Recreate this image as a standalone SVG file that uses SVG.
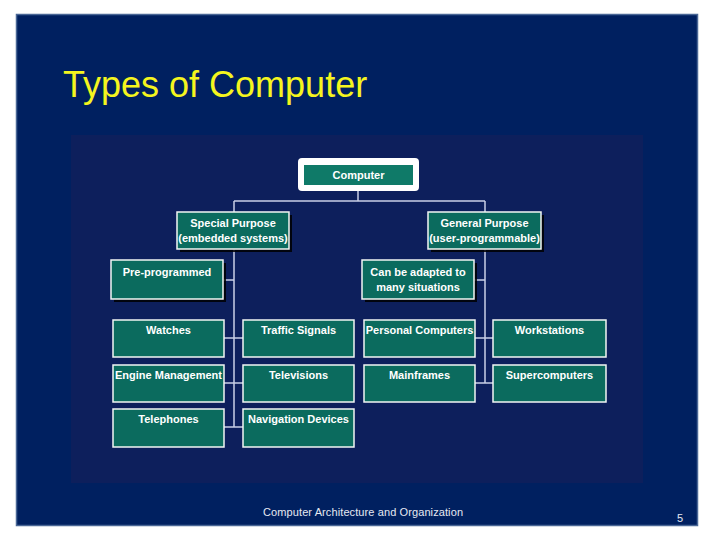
<svg xmlns="http://www.w3.org/2000/svg" width="728" height="546" viewBox="0 0 728 546">
<defs>
<style>
.box{fill:#0b6b5e;stroke:#f2f6f4;stroke-width:1.5}
.sh{fill:#000000;opacity:0.85}
.lbl{font-family:"Liberation Sans",Arial,sans-serif;font-weight:bold;font-size:11px;fill:#ffffff;text-anchor:middle}
.ln{stroke:#c9d0e6;stroke-width:1.5;fill:none}
</style>
</defs>
<rect x="0" y="0" width="728" height="546" fill="#ffffff"/>
<rect x="16.5" y="14.5" width="681" height="511" fill="#002060" stroke="#4a6796" stroke-width="1.5"/>
<text x="63" y="97" font-family="Liberation Sans, Arial, sans-serif" font-size="36" fill="#f5f51e">Types of Computer</text>
<rect x="71" y="135" width="572" height="348" fill="#0d1f5c"/>
<g id="connectors">
<path class="ln" d="M358 191 V201 M234 201 H485 M234 201 V212 M485 201 V212"/>
<path class="ln" d="M234 249 V427 M485 249 V383"/>
<path class="ln" d="M223 280 H234 M474 280 H485"/>
<path class="ln" d="M224 338 H243 M224 383 H243 M224 427 H243"/>
<path class="ln" d="M475 338 H493 M475 383 H493"/>
</g>
<g id="computer">
<rect x="298" y="158" width="121" height="33" rx="4" fill="#ffffff"/>
<rect x="304" y="165" width="109" height="20" fill="#0f7a68"/>
<text class="lbl" x="358.5" y="178.5">Computer</text>
</g>
<g id="special">
<rect class="sh" x="180" y="215" width="112" height="37"/>
<rect class="box" x="177" y="212" width="112" height="37"/>
<text class="lbl" x="233" y="227">Special Purpose</text>
<text class="lbl" x="233" y="242">(embedded systems)</text>
</g>
<g id="general">
<rect class="sh" x="431" y="215" width="113" height="37"/>
<rect class="box" x="428" y="212" width="113" height="37"/>
<text class="lbl" x="484.5" y="227">General Purpose</text>
<text class="lbl" x="484.5" y="242">(user-programmable)</text>
</g>
<g id="preprog">
<rect class="sh" x="114" y="263" width="112" height="39"/>
<rect class="box" x="111" y="260" width="112" height="39"/>
<text class="lbl" x="167" y="276">Pre-programmed</text>
</g>
<g id="adapted">
<rect class="sh" x="365" y="263" width="112" height="39"/>
<rect class="box" x="362" y="260" width="112" height="39"/>
<text class="lbl" x="418" y="276">Can be adapted to</text>
<text class="lbl" x="418" y="291">many situations</text>
</g>
<g id="watches">
<rect class="box" x="113" y="320" width="111" height="37"/>
<text class="lbl" x="168.5" y="334">Watches</text>
</g>
<g id="traffic">
<rect class="box" x="243" y="320" width="111" height="37"/>
<text class="lbl" x="298.5" y="334">Traffic Signals</text>
</g>
<g id="pc">
<rect class="box" x="364" y="320" width="111" height="37"/>
<text class="lbl" x="419.5" y="334">Personal Computers</text>
</g>
<g id="workstations">
<rect class="box" x="493" y="320" width="113" height="37"/>
<text class="lbl" x="549.5" y="334">Workstations</text>
</g>
<g id="engine">
<rect class="box" x="113" y="365" width="111" height="37"/>
<text class="lbl" x="168.5" y="379">Engine Management</text>
</g>
<g id="televisions">
<rect class="box" x="243" y="365" width="111" height="37"/>
<text class="lbl" x="298.5" y="379">Televisions</text>
</g>
<g id="mainframes">
<rect class="box" x="364" y="365" width="111" height="37"/>
<text class="lbl" x="419.5" y="379">Mainframes</text>
</g>
<g id="supercomputers">
<rect class="box" x="493" y="365" width="113" height="37"/>
<text class="lbl" x="549.5" y="379">Supercomputers</text>
</g>
<g id="telephones">
<rect class="box" x="113" y="409" width="111" height="38"/>
<text class="lbl" x="168.5" y="423">Telephones</text>
</g>
<g id="navigation">
<rect class="box" x="243" y="409" width="111" height="38"/>
<text class="lbl" x="298.5" y="423">Navigation Devices</text>
</g>
<text x="263" y="516" font-family="Liberation Sans, Arial, sans-serif" font-size="11" fill="#e6e9f2" textLength="200">Computer Architecture and Organization</text>
<text x="677" y="522" font-family="Liberation Sans, Arial, sans-serif" font-size="11" fill="#e6e9f2">5</text>
</svg>
